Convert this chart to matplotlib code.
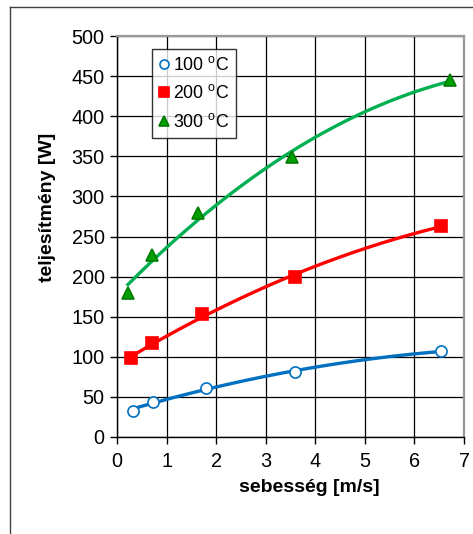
import numpy as np
import matplotlib
matplotlib.use("Agg")
import matplotlib.pyplot as plt
from matplotlib.lines import Line2D

plt.rcParams["font.family"] = ["Liberation Sans", "DejaVu Sans"]
plt.rcParams["mathtext.fontset"] = "custom"
plt.rcParams["mathtext.rm"] = "Liberation Sans"

# ---- data ------------------------------------------------------------
speed_100 = [0.32, 0.72, 1.79, 3.59, 6.53]
power_100 = [33, 44, 61, 81, 107]

speed_200 = [0.29, 0.71, 1.72, 3.59, 6.54]
power_200 = [98, 117, 153, 200, 263]

speed_300 = [0.22, 0.70, 1.64, 3.54, 6.71]
power_300 = [180, 227, 279, 349, 445]

labels = ["100 $^{\\rm o}$C", "200 $^{\\rm o}$C", "300 $^{\\rm o}$C"]
x_ticks = [0, 1, 2, 3, 4, 5, 6, 7]
y_ticks = [0, 50, 100, 150, 200, 250, 300, 350, 400, 450, 500]

W, H = 473, 534
fig = plt.figure(figsize=(W / 100, H / 100), dpi=100)
fig.patch.set_facecolor("white")

# outer chart frame (top + left visible)
fig.add_artist(Line2D([10 / W, 1.0], [1 - 7 / H, 1 - 7 / H], color="#404040", lw=1.0))
fig.add_artist(Line2D([10 / W, 10 / W], [0.0, 1 - 7 / H], color="#404040", lw=1.0))

ax = fig.add_axes([117 / W, (H - 437) / H, 347 / W, 401 / H])
ax.set_xlim(0, 7)
ax.set_ylim(0, 500)
ax.set_xticks(x_ticks)
ax.set_yticks(y_ticks)
ax.grid(True, color="#000000", lw=0.9)
ax.set_axisbelow(True)

for side in ("top", "right"):
    ax.spines[side].set_color("#999999")
    ax.spines[side].set_linewidth(1.6)
for side in ("left", "bottom"):
    ax.spines[side].set_color("#000000")
    ax.spines[side].set_linewidth(1.0)

ax.tick_params(direction="out", length=5, width=1, labelsize=14.3)
ax.tick_params(axis="x", pad=6)
ax.tick_params(axis="y", pad=4)

series = [
    (speed_100, power_100, "#0070C0", "o", "white", "#0070C0", 8),
    (speed_200, power_200, "#FF0000", "s", "#FF0000", "#FF0000", 8.5),
    (speed_300, power_300, "#00B050", "^", "#00A000", "#007A00", 8),
]

handles = []
for (xs, ys, lc, mk, mfc, mec, ms), lab in zip(series, labels):
    # Excel-style 2nd order trendline through the measured points
    coef = np.polyfit(xs, ys, 2)
    xx = np.linspace(min(xs), max(xs), 200)
    ax.plot(xx, np.polyval(coef, xx), color=lc, lw=2.4, zorder=3)
    ax.plot(xs, ys, ls="none", marker=mk, ms=ms, mfc=mfc, mec=mec,
            mew=1.2, zorder=4)
    handles.append(Line2D([], [], ls="none", marker=mk, ms=ms - 1.5, mfc=mfc,
                          mec=mec, mew=1.2, label=lab))

leg = ax.legend(handles=handles, loc="upper left",
                bbox_to_anchor=((152 - 117) / 347, (437 - 49) / 401),
                frameon=True, fancybox=False, fontsize=12.8,
                handlelength=0.6, handletextpad=0.2, borderpad=0.38,
                labelspacing=0.6, borderaxespad=0)
leg.get_frame().set_edgecolor("#000000")
leg.get_frame().set_linewidth(1.0)

fig.text(309 / W, 1 - 488 / H, "sebesség [m/s]", fontsize=14, fontweight="bold",
         ha="center", va="center")
fig.text(48 / W, 1 - 207 / H, "teljesítmény [W]", fontsize=14, fontweight="bold",
         ha="center", va="center", rotation=90)

fig.savefig("out.png", dpi=100, facecolor="white")
